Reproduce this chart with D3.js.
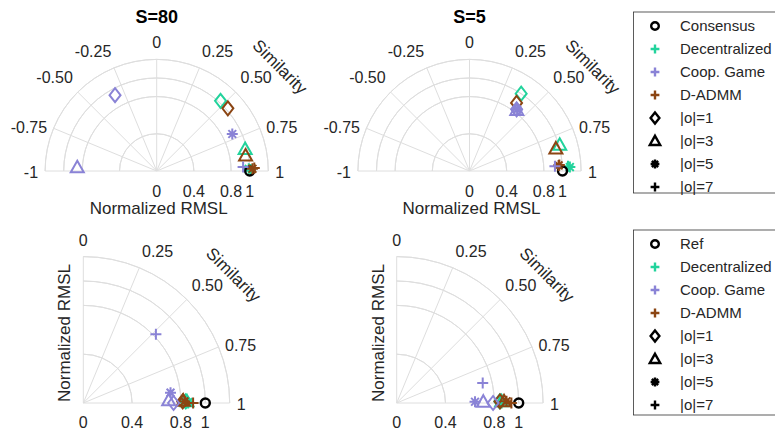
<!DOCTYPE html>
<html>
<head>
<meta charset="utf-8">
<script src="https://cdn.jsdelivr.net/npm/d3@7"></script>
<style>
  body { margin: 0; background: #fff; }
  text { font-family: "Liberation Sans", Arial, sans-serif; fill: #262626; }
</style>
</head>
<body>
<svg width="775" height="435"></svg>
<script>
const methods = ['Decentralized', 'Coop. Game', 'D-ADMM'];
const colors = ['#22d39c', '#8a83d6', '#8b4513'];
const orders = ['|o|=1', '|o|=3', '|o|=5', '|o|=7'];
const shapes = ['diamond', 'triangle', 'asterisk', 'plus'];
const simTicksHalf = [-1, -0.75, -0.5, -0.25, 0, 0.25, 0.5, 0.75, 1];
const simTicksQuarter = [0, 0.25, 0.5, 0.75, 1];
const rmslTicks = [0, 0.4, 0.8, 1];
const rmslGrid = [0.4, 0.8, 1, 1.2];
const ref = [1, 1];

// [similarity, normalized RMSL] for |o| = 1, 3, 5, 7
const s80Dec = [[0.47, 1.02], [0.845, 0.98], [0.985, 0.99], [0.99, 1.01]];
const s80Coop = [[-0.32, 0.93], [-0.97, 0.855], [0.71, 0.905], [0.97, 0.93]];
const s80Admm = [[0.54, 1.02], [0.89, 0.97], [0.985, 1.03], [0.98, 1.05]];

const s5Dec = [[0.375, 1.0], [0.82, 1.01], [0.975, 1.08], [0.97, 1.06]];
const s5Coop = [[0.415, 0.835], [0.42, 0.83], [0.42, 0.835], [0.965, 0.92]];
const s5Admm = [[0.385, 0.89], [0.837, 0.96], [0.96, 0.96], [0.958, 0.968]];

const b80Dec = [[0.99, 0.84], [0.99, 0.85], [0.995, 0.86], [1.0, 0.86]];
const b80Coop = [[1.0, 0.74], [0.98, 0.70], [0.925, 0.72], [0.517, 0.82]];
const b80Admm = [[0.99, 0.815], [0.985, 0.82], [0.99, 0.83], [1.0, 0.9]];

const b5Dec = [[0.99, 0.845], [0.99, 0.86], [0.99, 0.87], [1.0, 0.86]];
const b5Coop = [[1.0, 0.79], [0.99, 0.71], [0.99, 0.642], [0.854, 0.724]];
const b5Admm = [[0.99, 0.847], [0.99, 0.88], [0.99, 0.9], [1.0, 0.94]];

const svg = d3.select('svg');

function symbol(shape, k) {
  const p = d3.path();
  if (shape === 'diamond') {
    p.moveTo(0, -7 * k); p.lineTo(5.5 * k, 0); p.lineTo(0, 7 * k); p.lineTo(-5.5 * k, 0); p.closePath();
  } else if (shape === 'triangle') {
    p.moveTo(0, -6.5 * k); p.lineTo(6.5 * k, 5 * k); p.lineTo(-6.5 * k, 5 * k); p.closePath();
  } else if (shape === 'asterisk') {
    for (let i = 0; i < 4; i++) {
      const a = i * Math.PI / 4, r = 5.5 * k;
      p.moveTo(-r * Math.cos(a), -r * Math.sin(a));
      p.lineTo(r * Math.cos(a), r * Math.sin(a));
    }
  } else {
    const r = 5.5 * k;
    p.moveTo(-r, 0); p.lineTo(r, 0); p.moveTo(0, -r); p.lineTo(0, r);
  }
  return p.toString();
}

function panel(opt) {
  const g = svg.append('g').attr('transform', `translate(${opt.cx},${opt.cy})`);
  const rScale = d3.scaleLinear().domain([0, 1.2]).range([0, opt.R]);
  const aScale = d3.scaleLinear().domain([0, 1]).range([Math.PI / 2, 0]);
  const ticks = opt.half ? simTicksHalf : simTicksQuarter;
  const a0 = aScale(ticks[0]);
  const pos = (s, r) => [rScale(r) * Math.cos(aScale(s)), -rScale(r) * Math.sin(aScale(s))];

  // rings
  g.selectAll('.ring').data(rmslGrid).join('path')
    .attr('d', (d) => d3.arc()({ innerRadius: rScale(d), outerRadius: rScale(d), startAngle: Math.PI / 2 - a0, endAngle: Math.PI / 2 }))
    .attr('fill', 'none').attr('stroke', '#dedede').attr('stroke-width', 1);

  // spokes
  g.selectAll('.spoke').data(ticks).join('line')
    .attr('x1', 0).attr('y1', 0)
    .attr('x2', (d) => pos(d, 1.2)[0]).attr('y2', (d) => pos(d, 1.2)[1])
    .attr('stroke', '#dedede').attr('stroke-width', 1);

  // angular tick labels
  const fmt = (v) => (v % 1 === 0 ? String(v) : v.toFixed(2));
  g.selectAll('.alab').data(ticks).join('text')
    .attr('x', (d) => (opt.R + 7) * Math.cos(aScale(d)))
    .attr('y', (d) => {
      const a = aScale(d);
      const yp = -(opt.R + 7) * Math.sin(a);
      return Math.sin(a) > 0.5 ? yp - 4 : yp + 7;
    })
    .attr('text-anchor', (d) => {
      const c = Math.cos(aScale(d));
      return c > 0.01 ? 'start' : c < -0.01 ? 'end' : 'middle';
    })
    .attr('font-size', 16)
    .text(fmt);

  // radial tick labels
  g.selectAll('.rlab').data(rmslTicks).join('text')
    .attr('x', (d) => rScale(d)).attr('y', opt.half ? 26 : 25)
    .attr('text-anchor', 'middle').attr('font-size', 16)
    .text((d) => String(d));

  // axis labels
  if (opt.half) {
    g.append('text').attr('x', 2).attr('y', 43).attr('text-anchor', 'middle')
      .attr('font-size', 17).text('Normalized RMSL');
  } else {
    g.append('text').attr('transform', `translate(-13,-70) rotate(-90)`)
      .attr('text-anchor', 'middle').attr('font-size', 17).text('Normalized RMSL');
  }
  g.append('text')
    .attr('transform', `translate(${opt.simDx},${opt.simDy}) rotate(45)`)
    .attr('text-anchor', 'middle').attr('dominant-baseline', 'central')
    .attr('font-size', 17).text('Similarity');

  if (opt.title) {
    g.append('text').attr('x', 0).attr('y', 23 - opt.cy).attr('text-anchor', 'middle')
      .attr('font-size', 18).attr('font-weight', 'bold').style('fill', '#000').text(opt.title);
  }

  const drawSeries = (vals, color) => {
    g.append('g').selectAll('path').data(vals).join('path')
      .attr('transform', (d) => `translate(${pos(d[0], d[1])})`)
      .attr('d', (d, i) => symbol(shapes[i], 1))
      .attr('fill', 'none').attr('stroke', color).attr('stroke-width', 2);
  };
  drawSeries(opt.data[0], colors[0]);
  g.append('circle')
    .attr('cx', pos(ref[0], ref[1])[0]).attr('cy', pos(ref[0], ref[1])[1])
    .attr('r', 4.5).attr('fill', 'none').attr('stroke', '#000').attr('stroke-width', 2.4);
  drawSeries(opt.data[2], colors[2]);
  drawSeries(opt.data[1], colors[1]);
}

panel({ cx: 156.7, cy: 171, R: 111.6, half: true, title: 'S=80', simDx: 123, simDy: -104, data: [s80Dec, s80Coop, s80Admm] });
panel({ cx: 469.5, cy: 171, R: 111.6, half: true, title: 'S=5', simDx: 123, simDy: -104, data: [s5Dec, s5Coop, s5Admm] });
panel({ cx: 83.3, cy: 403, R: 146.4, half: false, simDx: 150, simDy: -128, data: [b80Dec, b80Coop, b80Admm] });
panel({ cx: 396.7, cy: 403, R: 146.4, half: false, simDx: 150, simDy: -128, data: [b5Dec, b5Coop, b5Admm] });

function legend(y0, h, first) {
  const lg = svg.append('g');
  lg.append('rect').attr('x', 633.5).attr('y', y0).attr('width', 160).attr('height', h)
    .attr('fill', '#fff').attr('stroke', '#333').attr('stroke-width', 0.8);
  const items = [{ label: first, kind: 'circle', color: '#000' }]
    .concat(methods.map((m, i) => ({ label: m, kind: 'plus', color: colors[i] })))
    .concat(orders.map((o, i) => ({ label: o, kind: shapes[i], color: '#000' })));
  const row = lg.selectAll('.item').data(items).join('g')
    .attr('transform', (d, i) => `translate(655,${y0 + 14 + i * 23})`);
  row.filter((d) => d.kind === 'circle').append('circle')
    .attr('r', 3.8).attr('fill', 'none').attr('stroke', (d) => d.color).attr('stroke-width', 2.4);
  row.filter((d) => d.kind !== 'circle').append('path')
    .attr('d', (d) => symbol(d.kind, 0.8))
    .attr('fill', 'none').attr('stroke', (d) => d.color).attr('stroke-width', 2.4);
  row.append('text').attr('x', 25).attr('y', 5).attr('font-size', 15).text((d) => d.label);
}
legend(12, 181, 'Consensus');
legend(230, 185, 'Ref');
</script>
</body>
</html>
